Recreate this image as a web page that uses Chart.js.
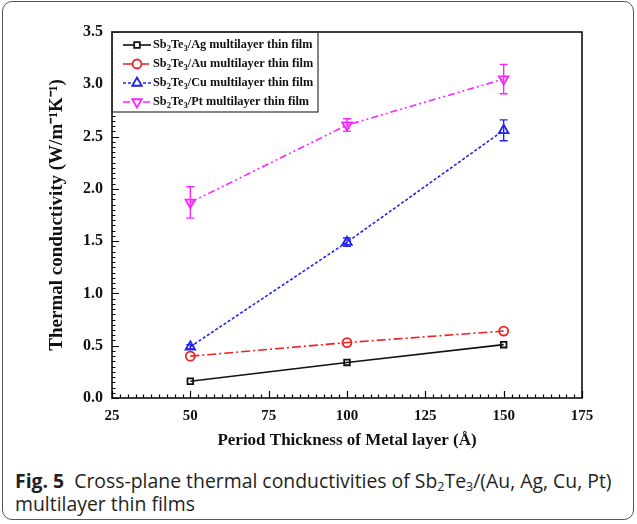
<!DOCTYPE html>
<html>
<head>
<meta charset="utf-8">
<script src="https://cdn.jsdelivr.net/npm/chart.js@4.4.1/dist/chart.umd.min.js"></script>
<style>
    html, body { margin: 0; padding: 0; background: #fff; }
    #frame {
        position: absolute; left: 2px; top: 1px; width: 630px; height: 517px;
        border: 1.5px solid #555; border-radius: 10px;
    }
    #chartWrap { position: absolute; left: 0; top: 0; width: 637px; height: 465px; }
    #caption {
        position: absolute; left: 15px; top: 469px; width: 618px; white-space: nowrap;
        font-family: "Open Sans", sans-serif; font-size: 19.4px; line-height: 23px; color: #231f20;
    }
    #caption b { font-weight: 700; margin-right: 5px; }
    #caption sub { font-size: 12.5px; line-height: 0; vertical-align: -3px; }
</style>
</head>
<body>
<div id="frame"></div>
<div id="chartWrap"><canvas id="tcChart" width="637" height="465"></canvas></div>
<div id="caption"><b>Fig. 5</b> Cross-plane thermal conductivities of Sb<sub>2</sub>Te<sub>3</sub>/(Au, Ag, Cu, Pt)<br>multilayer thin films</div>

<script>
// period thickness (Å)
const periods = [50, 100, 150];

// thermal conductivity (W/m-1K-1)
const agValues = [0.16, 0.34, 0.51];
const auValues = [0.40, 0.53, 0.64];
const cuValues = [0.49, 1.49, 2.56];
const ptValues = [1.87, 2.61, 3.05];

// error bar half-heights
const agErrors = [0, 0, 0];
const auErrors = [0, 0, 0];
const cuErrors = [0.02, 0.04, 0.10];
const ptErrors = [0.15, 0.06, 0.14];

const metals = ['Ag', 'Au', 'Cu', 'Pt'];
const xTicks = [25, 50, 75, 100, 125, 150, 175];
const yTicks = [0.0, 0.5, 1.0, 1.5, 2.0, 2.5, 3.0, 3.5];

const serif = '"Liberation Serif", "Times New Roman", serif';

function toPoints(values) {
    return periods.map((p, i) => ({ x: p, y: values[i] }));
}

const seriesStyles = [
    { color: '#111111', dash: [], pointStyle: 'rect', rotation: 0, radius: 4 },
    { color: '#ee2222', dash: [9, 3, 2, 3], pointStyle: 'circle', rotation: 0, radius: 4.5 },
    { color: '#2222ee', dash: [3, 2], pointStyle: 'triangle', rotation: 0, radius: 5.5 },
    { color: '#ff22ff', dash: [7, 3, 2, 3, 2, 3], pointStyle: 'triangle', rotation: 180, radius: 5.5 }
];
const seriesValues = [agValues, auValues, cuValues, ptValues];
const seriesErrors = [agErrors, auErrors, cuErrors, ptErrors];

const datasets = metals.map((m, i) => ({
    label: 'Sb2Te3/' + m + ' multilayer thin film',
    metal: m,
    data: toPoints(seriesValues[i]),
    errors: seriesErrors[i],
    borderColor: seriesStyles[i].color,
    backgroundColor: 'rgba(255,255,255,0)',
    borderWidth: 1.6,
    borderDash: seriesStyles[i].dash,
    pointStyle: seriesStyles[i].pointStyle,
    pointRotation: seriesStyles[i].rotation,
    pointRadius: seriesStyles[i].radius,
    pointBorderWidth: 1.8,
    pointBorderColor: seriesStyles[i].color,
    pointBackgroundColor: 'rgba(255,255,255,0)',
    fill: false,
    tension: 0
}));

// draw "Sb2Te3/.." with real subscripts
function drawSubText(ctx, x, y, metal, size) {
    const parts = [['Sb', 0], ['2', 1], ['Te', 0], ['3', 1], ['/' + metal + ' multilayer thin film', 0]];
    let cx = x;
    parts.forEach(([t, sub]) => {
        ctx.font = 'bold ' + (sub ? size * 0.7 : size) + 'px ' + serif;
        ctx.fillText(t, cx, sub ? y + size * 0.3 : y);
        cx += ctx.measureText(t).width;
    });
}

const framePlugin = {
    id: 'framePlugin',
    afterDatasetsDraw(chart) {
        const { ctx } = chart;
        const xs = chart.scales.x, ys = chart.scales.y;
        // error bars
        chart.data.datasets.forEach(ds => {
            ctx.save();
            ctx.strokeStyle = ds.borderColor;
            ctx.lineWidth = 1.4;
            ds.data.forEach((pt, i) => {
                const e = ds.errors[i];
                if (!e) return;
                const px = xs.getPixelForValue(pt.x);
                const top = ys.getPixelForValue(pt.y + e);
                const bot = ys.getPixelForValue(pt.y - e);
                ctx.beginPath();
                ctx.moveTo(px, top); ctx.lineTo(px, bot);
                ctx.moveTo(px - 4, top); ctx.lineTo(px + 4, top);
                ctx.moveTo(px - 4, bot); ctx.lineTo(px + 4, bot);
                ctx.stroke();
            });
            ctx.restore();
        });
    },
    afterDraw(chart) {
        const { ctx, chartArea: a } = chart;
        const xs = chart.scales.x, ys = chart.scales.y;
        ctx.save();
        ctx.strokeStyle = '#000';
        ctx.lineWidth = 1.5;
        ctx.strokeRect(a.left, a.top, a.right - a.left, a.bottom - a.top);

        // inward ticks, major and minor
        ctx.lineWidth = 1.2;
        ctx.beginPath();
        for (let v = 25; v <= 175.001; v += 2.5) {
            const px = Math.round(xs.getPixelForValue(v)) + 0.5;
            const major = Math.abs(v % 25) < 0.01;
            ctx.moveTo(px, a.bottom);
            ctx.lineTo(px, a.bottom - (major ? 7 : 3.5));
        }
        for (let k = 0; k <= 70; k++) {
            const v = k * 0.05;
            const py = Math.round(ys.getPixelForValue(v)) + 0.5;
            const major = k % 10 === 0;
            ctx.moveTo(a.left, py);
            ctx.lineTo(a.left + (major ? 7 : 3.5), py);
        }
        ctx.stroke();

        // legend box
        const lx = a.left, ly = a.top, lw = 206, lh = 80;
        ctx.fillStyle = '#fff';
        ctx.fillRect(lx + 1, ly + 1, lw - 1, lh - 1);
        ctx.lineWidth = 1.2;
        ctx.strokeStyle = '#333';
        ctx.strokeRect(lx, ly, lw, lh);
        chart.data.datasets.forEach((ds, i) => {
            const y = ly + 13 + i * 19;
            ctx.save();
            ctx.strokeStyle = ds.borderColor;
            ctx.lineWidth = 1.6;
            ctx.setLineDash(ds.borderDash);
            ctx.beginPath();
            ctx.moveTo(lx + 11, y); ctx.lineTo(lx + 39, y);
            ctx.stroke();
            ctx.setLineDash([]);
            ctx.lineWidth = 1.8;
            ctx.fillStyle = '#fff';
            Chart.helpers.drawPoint(ctx, {
                pointStyle: ds.pointStyle, rotation: ds.pointRotation,
                radius: ds.pointRadius, borderWidth: 1.8
            }, lx + 25, y);
            ctx.restore();
            ctx.fillStyle = '#111';
            ctx.textBaseline = 'middle';
            drawSubText(ctx, lx + 41, y, ds.metal, 12.3);
        });
        ctx.restore();
    }
};

new Chart(document.getElementById('tcChart'), {
    type: 'line',
    data: { datasets: datasets },
    options: {
        responsive: false,
        animation: false,
        devicePixelRatio: 1,
        layout: { padding: { top: 32, right: 55, left: 0, bottom: 0 } },
        plugins: { legend: { display: false }, tooltip: { enabled: false } },
        scales: {
            x: {
                type: 'linear',
                min: 25, max: 175,
                afterFit(s) { s.height = 67; },
                afterBuildTicks(s) { s.ticks = xTicks.map(v => ({ value: v })); },
                grid: { display: false, drawTicks: false },
                border: { display: false },
                ticks: { color: '#111', padding: 9, font: { family: serif, size: 15, weight: 'bold' } },
                title: {
                    display: true,
                    text: 'Period Thickness of Metal layer (Å)',
                    color: '#111',
                    padding: { top: 0, bottom: 14 },
                    font: { family: serif, size: 17, weight: 'bold' }
                }
            },
            y: {
                min: 0, max: 3.5,
                afterFit(s) { s.width = 112; },
                afterBuildTicks(s) { s.ticks = yTicks.map(v => ({ value: v })); },
                grid: { display: false, drawTicks: false },
                border: { display: false },
                ticks: {
                    color: '#111', padding: 9,
                    font: { family: serif, size: 16, weight: 'bold' },
                    callback: v => v.toFixed(1)
                },
                title: {
                    display: true,
                    text: 'Thermal conductivity (W/m⁻¹K⁻¹)',
                    color: '#111',
                    padding: { top: 46, bottom: 0 },
                    font: { family: serif, size: 19, weight: 'bold' }
                }
            }
        }
    },
    plugins: [framePlugin]
});
</script>
</body>
</html>
